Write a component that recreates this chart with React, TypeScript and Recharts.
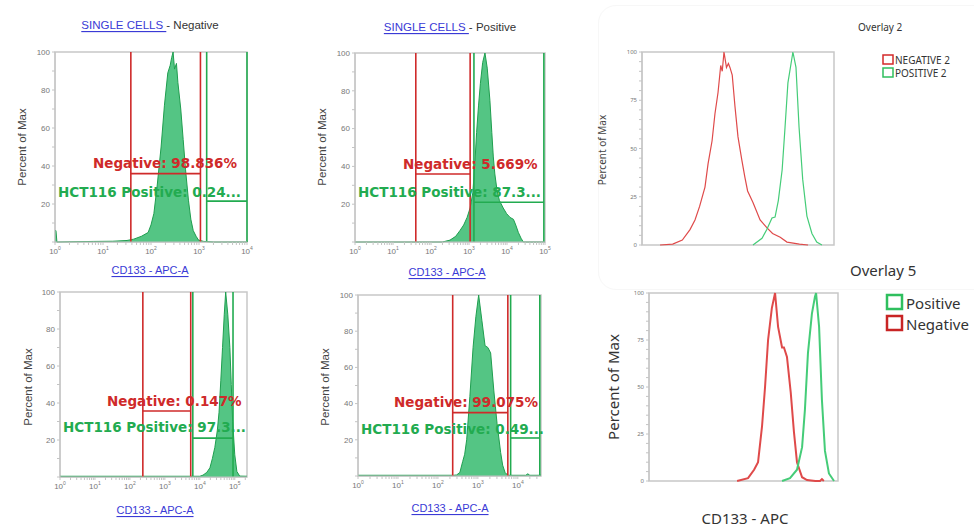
import {
  Area,
  ComposedChart,
  Line,
  LineChart,
  ReferenceArea,
  ReferenceLine,
  XAxis,
  YAxis,
} from 'recharts';

// gated histograms: x in decades (log10 of CD133 - APC-A), y in % of max
const p1Decades = [0, 0.02, 0.04, 0.8, 1.2, 1.5, 1.64, 1.8, 1.94, 2.0, 2.06, 2.13, 2.21, 2.28, 2.35, 2.4, 2.43, 2.46, 2.49, 2.53, 2.56, 2.62, 2.67, 2.72, 2.78, 2.83, 2.88, 2.94, 2.99, 3.1, 3.3, 4];
const p1Percent = [6, 6, 0, 0.3, 0.4, 0.8, 1.5, 3, 5, 9, 15, 30, 50, 72, 89, 93, 97, 100, 91, 94, 84, 70, 54, 38, 22, 12, 6, 3, 1, 0.3, 0, 0];

const p2Decades = [0, 2.3, 2.5, 2.65, 2.76, 2.86, 2.95, 3.03, 3.1, 3.15, 3.2, 3.25, 3.3, 3.36, 3.42, 3.48, 3.55, 3.6, 3.64, 3.68, 3.74, 3.8, 3.9, 3.99, 4.08, 4.17, 4.23, 4.3, 4.37, 4.43, 5];
const p2Percent = [0, 0, 1, 3, 6, 9, 13, 18, 26, 40, 58, 72, 84, 95, 100, 92, 75, 58, 45, 36, 27, 22, 18, 15, 13, 12, 9, 5, 2, 0, 0];

const p4Decades = [0, 4.0, 4.09, 4.2, 4.29, 4.36, 4.43, 4.5, 4.55, 4.6, 4.65, 4.7, 4.74, 4.8, 4.86, 4.9, 4.94, 5.0, 5.06, 5.14, 5.35];
const p4Percent = [0.4, 0.4, 1, 2.5, 5, 10, 16, 25, 35, 52, 70, 88, 100, 88, 70, 50, 30, 12, 3, 0.5, 0.4];

const p5Decades = [0, 2.4, 2.47, 2.55, 2.62, 2.67, 2.72, 2.8, 2.88, 2.95, 3.02, 3.1, 3.18, 3.25, 3.32, 3.4, 3.48, 3.57, 3.62, 3.68, 3.75, 4.2, 4.25, 4.3, 4.58];
const p5Percent = [0.4, 0.4, 0.6, 2, 8, 12, 20, 44, 71, 88, 100, 86, 72, 71, 68, 47, 29, 13, 6, 2, 0.4, 0.4, 1.2, 0.4, 0.4];

// gates: [left decade, right decade, bar level %]
const p1NegGate = [1.58, 3.03, 36];
const p1PosGate = [3.16, 4.0, 21.5];
const p2NegGate = [1.6, 3.03, 36];
const p2PosGate = [3.13, 4.97, 21];
const p4NegGate = [2.37, 3.74, 35.7];
const p4PosGate = [3.8, 4.95, 21];
const p5NegGate = [2.37, 3.75, 35];
const p5PosGate = [3.82, 4.55, 21];

// overlays: x on an unlabelled 0-100 scale
const ov2NegX = [9.4, 16, 21, 25, 27.6, 30, 32.8, 34.4, 36.5, 38, 39.6, 41, 41.8, 42.7, 44, 45, 45.8, 47, 48.4, 50, 52, 53.6, 55, 57.8, 61.5, 65, 68, 72, 75.5, 82, 86.5];
const ov2NegY = [0, 0.5, 2.6, 8, 13, 20, 30, 42, 54, 68, 79, 93, 90, 100, 92, 94, 92, 88, 72, 56, 44, 35, 28, 22, 13, 9, 6, 4, 1.5, 0.5, 0];
const ov2PosX = [57.8, 62.5, 65, 67.7, 69.3, 71, 73, 74.5, 76, 78.6, 80.2, 81.8, 83.7, 85.9, 88.5, 91, 93.7];
const ov2PosY = [0, 3.5, 8, 14, 14.5, 23, 39, 61, 84, 100, 92, 61, 34, 15, 6, 1.5, 0];

const ov5NegX = [46.6, 52.4, 55.6, 57.7, 59.8, 61.4, 63, 65, 66.7, 68.3, 70.4, 71.4, 73, 75, 76.7, 78.3, 81, 83.6, 88, 90.5, 91.5, 92.5];
const ov5NegY = [0, 1.5, 6, 10, 29, 50, 75, 92, 100, 82, 71, 71, 66, 47, 26, 10, 2, 0.5, 0, 0, 1, 0];
const ov5PosX = [70.4, 74.6, 78.3, 81, 82.5, 84.1, 86.2, 87.8, 88.4, 90, 91.5, 93.1, 95.2, 97.9];
const ov5PosY = [0, 1.5, 6, 18, 38, 68, 89, 98, 100, 82, 43, 16, 4, 0];

const RED = '#cf2a2a';
const GREEN = '#22ab50';
const LINK = '#3a3ad6';
const SANS = '"Liberation Sans", Arial, sans-serif';
const NOTO = '"Noto Sans", sans-serif';

const zip = (xs: number[], ys: number[]) => xs.map((x, i) => ({ x, y: ys[i] }));

function decadeTicks(max: number) {
  const out: number[] = [];
  for (let d = 0; d <= Math.floor(max); d++) {
    out.push(d);
    for (let k = 2; k < 10; k++) {
      const v = d + Math.log10(k);
      if (v <= max) out.push(v);
    }
  }
  return out;
}

function DecadeTick(props: any) {
  const { x, y, payload } = props;
  const v = payload.value;
  if (Math.abs(v - Math.round(v)) > 1e-6) return null;
  return (
    <text x={x} y={y} dy={7} textAnchor="middle" fontSize={8} fill="#777" fontFamily={SANS}>
      10<tspan dy={-4} fontSize={5}>{Math.round(v)}</tspan>
    </text>
  );
}

interface Box { x: number; y: number; w: number; h: number }

function HistPanel({ box, xMax, decades, percent, neg, pos }: {
  box: Box; xMax: number; decades: number[]; percent: number[]; neg: number[]; pos: number[];
}) {
  const data = zip(decades, percent);
  const w = box.w + 30 + 8;
  const h = box.h + 8 + 22;
  return (
    <div style={{ position: 'absolute', left: box.x - 30, top: box.y - 8 }}>
      <ComposedChart width={w} height={h} data={data} margin={{ top: 8, right: 8, left: 0, bottom: 0 }}>
        <XAxis
          dataKey="x"
          type="number"
          domain={[0, xMax]}
          ticks={decadeTicks(xMax)}
          interval={0}
          tick={DecadeTick}
          tickSize={3}
          stroke="#c4c4c4"
          height={22}
          allowDataOverflow
        />
        <YAxis
          type="number"
          domain={[0, 100]}
          ticks={[0, 10, 20, 30, 40, 50, 60, 70, 80, 90, 100]}
          interval={0}
          tickFormatter={(v: number) => (v > 0 && v % 20 === 0 ? String(v) : '')}
          tick={{ fontSize: 8, fill: '#777', fontFamily: SANS }}
          tickSize={3}
          stroke="#c4c4c4"
          width={30}
        />
        <ReferenceArea x1={0} x2={xMax} y1={0} y2={100} fill="none" stroke="#c8c8c8" strokeWidth={1.5} />
        <Area
          dataKey="y"
          type="linear"
          stroke="#1f9e4f"
          strokeWidth={1}
          fill="#45c07a"
          fillOpacity={0.92}
          isAnimationActive={false}
        />
        <ReferenceLine x={neg[0]} stroke={RED} strokeWidth={1.6} />
        <ReferenceLine x={neg[1]} stroke={RED} strokeWidth={1.6} />
        <ReferenceLine segment={[{ x: neg[0], y: neg[2] }, { x: neg[1], y: neg[2] }]} stroke={RED} strokeWidth={1.6} />
        <ReferenceLine x={pos[0]} stroke={GREEN} strokeWidth={1.6} />
        <ReferenceLine x={pos[1]} stroke={GREEN} strokeWidth={1.6} />
        <ReferenceLine segment={[{ x: pos[0], y: pos[2] }, { x: pos[1], y: pos[2] }]} stroke={GREEN} strokeWidth={1.6} />
      </ComposedChart>
    </div>
  );
}

function OverlayPanel({ box, neg, pos, width }: {
  box: Box; neg: { x: number; y: number }[]; pos: { x: number; y: number }[]; width: number;
}) {
  return (
    <div style={{ position: 'absolute', left: box.x - 30, top: box.y - 6 }}>
      <LineChart width={box.w + 34} height={box.h + 10} margin={{ top: 6, right: 4, left: 0, bottom: 4 }}>
        <XAxis dataKey="x" type="number" domain={[0, 100]} hide />
        <YAxis
          type="number"
          domain={[0, 100]}
          ticks={[0, 5, 10, 15, 20, 25, 30, 35, 40, 45, 50, 55, 60, 65, 70, 75, 80, 85, 90, 95, 100]}
          interval={0}
          tickFormatter={(v: number) => (v % 25 === 0 ? String(v) : '')}
          tick={{ fontSize: 6, fill: '#777', fontFamily: NOTO }}
          tickSize={3}
          stroke="#c4c4c4"
          width={30}
        />
        <ReferenceArea x1={0} x2={100} y1={0} y2={100} fill="none" stroke="#c8c8c8" strokeWidth={1.5} />
        <Line data={neg} dataKey="y" type="linear" stroke="#df4a4a" strokeWidth={width} dot={false} isAnimationActive={false} />
        <Line data={pos} dataKey="y" type="linear" stroke="#45cc78" strokeWidth={width} dot={false} isAnimationActive={false} />
      </LineChart>
    </div>
  );
}

function Title({ x, y, rest }: { x: number; y: number; rest: string }) {
  return (
    <text x={x} y={y} textAnchor="middle" dominantBaseline="central" fontSize={11.5} fontFamily={SANS}>
      <tspan fill={LINK} style={{ textDecoration: 'underline' }}>SINGLE CELLS </tspan>
      <tspan fill="#333">{rest}</tspan>
    </text>
  );
}

function AxisLink({ x, y }: { x: number; y: number }) {
  return (
    <text x={x} y={y} textAnchor="middle" dominantBaseline="central" fontSize={11} fill={LINK} fontFamily={SANS} style={{ textDecoration: 'underline' }}>
      CD133 - APC-A
    </text>
  );
}

function YTitle({ x, y, size, font, color }: { x: number; y: number; size: number; font: string; color: string }) {
  return (
    <text x={x} y={y} transform={`rotate(-90 ${x} ${y})`} textAnchor="middle" dominantBaseline="central" fontSize={size} fill={color} fontFamily={font}>
      Percent of Max
    </text>
  );
}

function GateText({ x, y, text, color }: { x: number; y: number; text: string; color: string }) {
  return (
    <text x={x} y={y} dominantBaseline="central" fontSize={13.5} fontWeight="bold" fill={color} fontFamily='"DejaVu Sans", sans-serif'>
      {text}
    </text>
  );
}

export default function App() {
  return (
    <div style={{ position: 'absolute', left: 0, top: 0, width: 974, height: 527, background: '#fff', overflow: 'hidden' }}>
      <div style={{ position: 'absolute', left: 598, top: 5, width: 400, height: 283, border: '1px solid #f7f7f7', borderRadius: 18 }} />

      <HistPanel box={{ x: 55, y: 52, w: 192, h: 190 }} xMax={4} decades={p1Decades} percent={p1Percent} neg={p1NegGate} pos={p1PosGate} />
      <HistPanel box={{ x: 355, y: 53, w: 190, h: 189 }} xMax={5} decades={p2Decades} percent={p2Percent} neg={p2NegGate} pos={p2PosGate} />
      <div style={{ position: 'absolute', left: 0, top: 289, width: 300, height: 238, overflow: 'hidden' }}>
        <div style={{ position: 'absolute', left: 0, top: -289 }}>
          <HistPanel box={{ x: 60, y: 292, w: 187, h: 185 }} xMax={5.35} decades={p4Decades} percent={p4Percent} neg={p4NegGate} pos={p4PosGate} />
        </div>
      </div>
      <HistPanel box={{ x: 358, y: 295, w: 183, h: 181 }} xMax={4.58} decades={p5Decades} percent={p5Percent} neg={p5NegGate} pos={p5PosGate} />

      <OverlayPanel box={{ x: 642, y: 52, w: 192, h: 193 }} neg={zip(ov2NegX, ov2NegY)} pos={zip(ov2PosX, ov2PosY)} width={1.2} />
      <OverlayPanel box={{ x: 649, y: 293, w: 189, h: 188 }} neg={zip(ov5NegX, ov5NegY)} pos={zip(ov5PosX, ov5PosY)} width={2} />

      <svg width={974} height={527} style={{ position: 'absolute', left: 0, top: 0, pointerEvents: 'none' }}>
        <Title x={150} y={25} rest="- Negative" />
        <Title x={450} y={27} rest="- Positive" />
        <AxisLink x={150} y={270} />
        <AxisLink x={447} y={272} />
        <AxisLink x={155} y={510} />
        <AxisLink x={450} y={508} />
        <YTitle x={22} y={147} size={11.5} font={SANS} color="#444" />
        <YTitle x={322} y={147} size={11.5} font={SANS} color="#444" />
        <YTitle x={28} y={387} size={11.5} font={SANS} color="#444" />
        <YTitle x={325} y={387} size={11.5} font={SANS} color="#444" />

        <GateText x={93} y={163} text="Negative: 98.836%" color={RED} />
        <GateText x={58} y={192} text="HCT116 Positive: 0.24..." color={GREEN} />
        <GateText x={403} y={164} text="Negative: 5.669%" color={RED} />
        <GateText x={358} y={192} text="HCT116 Positive: 87.3..." color={GREEN} />
        <GateText x={107} y={401} text="Negative: 0.147%" color={RED} />
        <GateText x={63} y={427} text="HCT116 Positive: 97.3..." color={GREEN} />
        <GateText x={394} y={402} text="Negative: 99.075%" color={RED} />
        <GateText x={361} y={429} text="HCT116 Positive: 0.49..." color={GREEN} />

        <text x={858} y={27} dominantBaseline="central" fontSize={10} fill="#333" fontFamily={NOTO}>Overlay 2</text>
        <YTitle x={602} y={150} size={10} font={NOTO} color="#444" />
        <rect x={883} y={55} width={10} height={9} fill="#fff" stroke="#d42a2a" strokeWidth={1.5} />
        <text x={895} y={59.5} dominantBaseline="central" fontSize={10} fill="#333" fontFamily={NOTO}>NEGATIVE 2</text>
        <rect x={883} y={68} width={10} height={9} fill="#fff" stroke="#2fbf5e" strokeWidth={1.5} />
        <text x={895} y={72.5} dominantBaseline="central" fontSize={10} fill="#333" fontFamily={NOTO}>POSITIVE 2</text>

        <text x={850} y={270} dominantBaseline="central" fontSize={15} fill="#333" fontFamily={NOTO}>Overlay 5</text>
        <YTitle x={613} y={387} size={15} font={NOTO} color="#333" />
        <rect x={887} y={295} width={15} height={14} fill="#fff" stroke="#2fbf5e" strokeWidth={2.5} />
        <text x={906} y={302.5} dominantBaseline="central" fontSize={15} fill="#333" fontFamily={NOTO}>Positive</text>
        <rect x={887} y={316} width={15} height={14} fill="#fff" stroke="#c82424" strokeWidth={2.5} />
        <text x={906} y={323.5} dominantBaseline="central" fontSize={15} fill="#333" fontFamily={NOTO}>Negative</text>
        <text x={745} y={518} textAnchor="middle" dominantBaseline="central" fontSize={15} fill="#333" fontFamily={NOTO}>CD133 - APC</text>
      </svg>
    </div>
  );
}
